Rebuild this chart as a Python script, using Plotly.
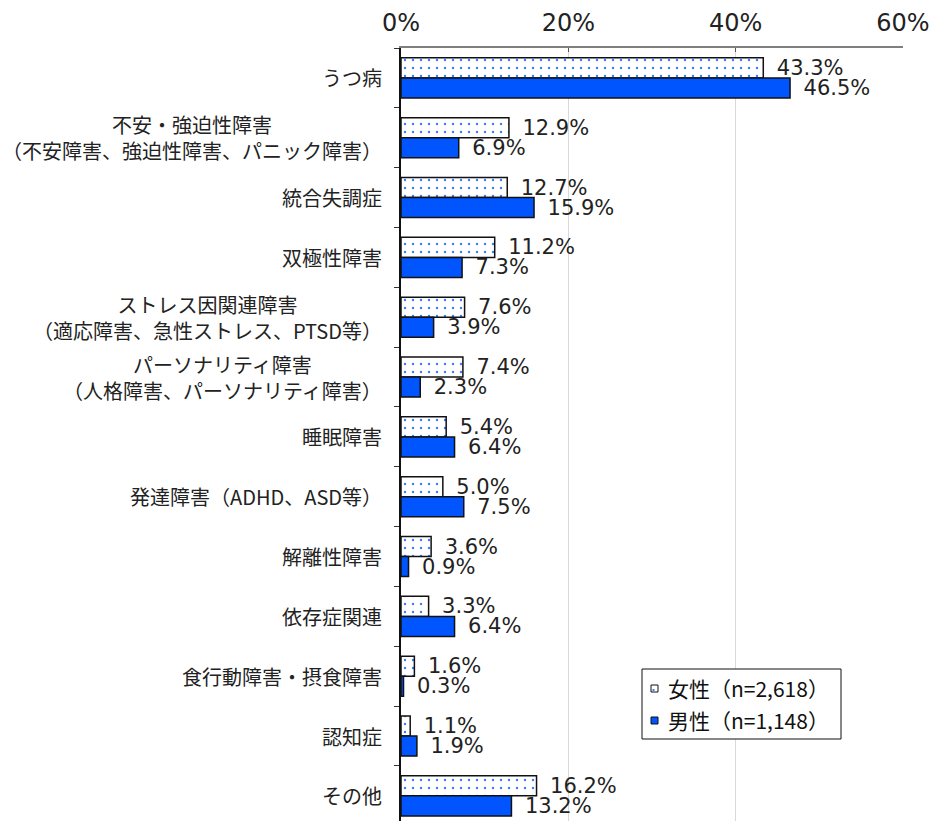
import plotly.graph_objects as go

# Diagnoses (top to bottom)
categories = [
    "うつ病",
    "不安・強迫性障害<br>（不安障害、強迫性障害、パニック障害）",
    "統合失調症",
    "双極性障害",
    "ストレス因関連障害<br>（適応障害、急性ストレス、PTSD等）",
    "パーソナリティ障害<br>（人格障害、パーソナリティ障害）",
    "睡眠障害",
    "発達障害（ADHD、ASD等）",
    "解離性障害",
    "依存症関連",
    "食行動障害・摂食障害",
    "認知症",
    "その他",
]
female = [43.3, 12.9, 12.7, 11.2, 7.6, 7.4, 5.4, 5.0, 3.6, 3.3, 1.6, 1.1, 16.2]
male = [46.5, 6.9, 15.9, 7.3, 3.9, 2.3, 6.4, 7.5, 0.9, 6.4, 0.3, 1.9, 13.2]
series_names = ["女性（n=2,618）", "男性（n=1,148）"]
x_ticks = [0, 20, 40, 60]
x_ticklabels = ["0%", "20%", "40%", "60%"]

FONT = "DejaVu Sans, Noto Sans CJK JP, sans-serif"
JP_FONT = "Noto Sans CJK JP, DejaVu Sans, sans-serif"
BLUE = "#0055FF"
DOT_BLUE = "#3a7cff"
TEXT = "#222222"

W, H = 931, 821
ML, MR, MT, MB = 401, 28, 48, 0
PW, PH = W - ML - MR, H - MT - MB


def px_x(px):
    """Pixel column -> paper x."""
    return (px - ML) / PW


def px_y(py):
    """Pixel row -> paper y."""
    return (H - MB - py) / PH


label_tmpl = "\u2002%{x:.1f}%"

fig = go.Figure()
fig.add_trace(go.Bar(
    name=series_names[0], y=categories, x=female, orientation="h",
    marker=dict(
        color="white",
        line=dict(color="#111111", width=1.5),
        pattern=dict(shape=".", fgcolor=DOT_BLUE, bgcolor="white",
                     size=8, solidity=0.07, fillmode="replace"),
    ),
    texttemplate=label_tmpl, textposition="outside", cliponaxis=False,
    constraintext="none",
    textfont=dict(family=FONT, size=21, color=TEXT),
    showlegend=False,
))
fig.add_trace(go.Bar(
    name=series_names[1], y=categories, x=male, orientation="h",
    marker=dict(color=BLUE, line=dict(color="#111111", width=1.5)),
    texttemplate=label_tmpl, textposition="outside", cliponaxis=False,
    constraintext="none",
    textfont=dict(family=FONT, size=21, color=TEXT),
    showlegend=False,
))

# Category labels, centred line by line, to the left of the axis
annotations = [
    dict(text=c, x=0, xref="paper", y=c, yref="y", xanchor="right",
         yanchor="middle", xshift=-17, align="center", showarrow=False,
         font=dict(family=JP_FONT, size=20, color=TEXT))
    for c in categories
]

# Legend box with swatches
shapes = [
    dict(type="rect", xref="paper", yref="paper",
         x0=px_x(642), x1=px_x(841), y0=px_y(739), y1=px_y(669),
         line=dict(color="#111111", width=1), fillcolor="white", layer="above"),
    dict(type="rect", xref="paper", yref="paper",
         x0=px_x(651), x1=px_x(658), y0=px_y(692), y1=px_y(685),
         line=dict(color="#111111", width=1), fillcolor="white", layer="above"),
    dict(type="rect", xref="paper", yref="paper",
         x0=px_x(652.5), x1=px_x(654.5), y0=px_y(691), y1=px_y(689),
         line=dict(width=0), fillcolor=DOT_BLUE, layer="above"),
    dict(type="rect", xref="paper", yref="paper",
         x0=px_x(651), x1=px_x(658), y0=px_y(724), y1=px_y(717),
         line=dict(color="#111111", width=1), fillcolor=BLUE, layer="above"),
]
for name, row in zip(series_names, [688, 720]):
    annotations.append(dict(
        text=name, x=px_x(666), xref="paper", y=px_y(row), yref="paper",
        xanchor="left", yanchor="middle", showarrow=False,
        font=dict(family=JP_FONT, size=21, color="#111111")))

fig.update_layout(
    width=W, height=H,
    margin=dict(l=ML, r=MR, t=MT, b=MB),
    paper_bgcolor="white", plot_bgcolor="white",
    barmode="group", bargap=0.33, bargroupgap=0.0,
    font=dict(family=JP_FONT, size=20, color=TEXT),
    showlegend=False,
    annotations=annotations, shapes=shapes,
    xaxis=dict(
        side="top", range=[0, 60], tickvals=x_ticks, ticktext=x_ticklabels,
        showgrid=True, gridcolor="#d9d9d9", gridwidth=1,
        showline=True, linecolor="#7f7f7f", linewidth=1.5,
        ticks="inside", ticklen=4, tickcolor="#555555",
        ticklabelstandoff=6,
        tickfont=dict(family=FONT, size=24, color=TEXT),
        zeroline=False, fixedrange=True,
    ),
    yaxis=dict(
        range=[12.42, -0.5], tickson="boundaries", showticklabels=False,
        showline=True, linecolor="#111111", linewidth=1.5,
        ticks="outside", ticklen=5, tickcolor="#333333",
        showgrid=False, zeroline=False,
    ),
)

fig.write_html("out.html")
